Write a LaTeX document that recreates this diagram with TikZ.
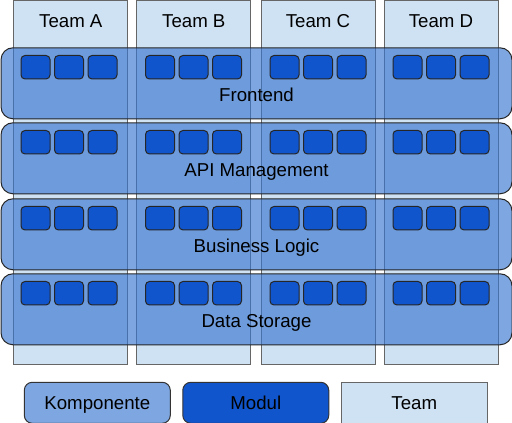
\documentclass[tikz,border=0pt]{standalone}
\usepackage{fontspec}
\setmainfont{Liberation Sans}
\usetikzlibrary{positioning}
\definecolor{teamfill}{HTML}{CFE2F3}
\definecolor{layerfill}{RGB}{57,118,208}
\definecolor{modfill}{HTML}{1155CC}
\definecolor{compfill}{HTML}{7EA6E0}
\tikzset{
  team/.style={draw=black!60, fill=teamfill, anchor=north west, inner sep=0pt,
    minimum width=114*0.75pt, minimum height=363.5*0.75pt},
  layer/.style={draw=black!85, fill=layerfill, fill opacity=0.65, rounded corners=9pt,
    anchor=north west, inner sep=0pt, minimum width=511*0.75pt, minimum height=71*0.75pt},
  modul/.style={draw=black!85, fill=modfill, rounded corners=3pt, anchor=north west,
    inner sep=0pt, minimum width=29*0.75pt, minimum height=23.5*0.75pt},
  legend/.style={draw=black!80, anchor=north west, inner sep=0pt, text height=10pt, text depth=0pt,
    minimum width=146*0.75pt, minimum height=41*0.75pt},
}

\begin{document}
\begin{tikzpicture}[x=0.75pt,y=-0.75pt,line width=0.75pt,font=\fontsize{14}{17}\selectfont]
  \useasboundingbox (0,0) rectangle (512,423);
  % Teams
  \foreach \t/\x in {A/13.3,B/136.3,C/260.5,D/383.5}{
    \node[team] (team\t) at (\x,0.5) {};
    \node[anchor=base] (teamlbl\t) at ([yshift=-20.4pt]team\t.north) {Team \t};
  }
  % Komponenten mit Modulen
  \foreach \n/\y/\name in {1/47.3/Frontend,2/122.3/API Management,3/198.3/Business Logic,4/273.3/Data Storage}{
    \node[layer] (layer\n) at (0.5,\y) {};
    \foreach \t/\x in {A/20.5,B/145,C/269.5,D/392.5}
      \foreach \k in {0,1,2}
        \node[modul] (mod\n\t\k) at (\x+\k*33.5,\y+7.7) {};
    \node[anchor=base] (layerlbl\n) at ([yshift=-40.8pt]layer\n.north) {\name};
  }
  % Legende
  \node[legend, fill=compfill, rounded corners=6pt] (legComp) at (23.8,381.8) {Komponente};
  \node[legend, fill=modfill, rounded corners=6pt, right=8.6pt of legComp] (legMod) {Modul};
  \node[legend, fill=teamfill, draw=black!60, right=8.6pt of legMod] (legTeam) {Team};
\end{tikzpicture}
\end{document}
